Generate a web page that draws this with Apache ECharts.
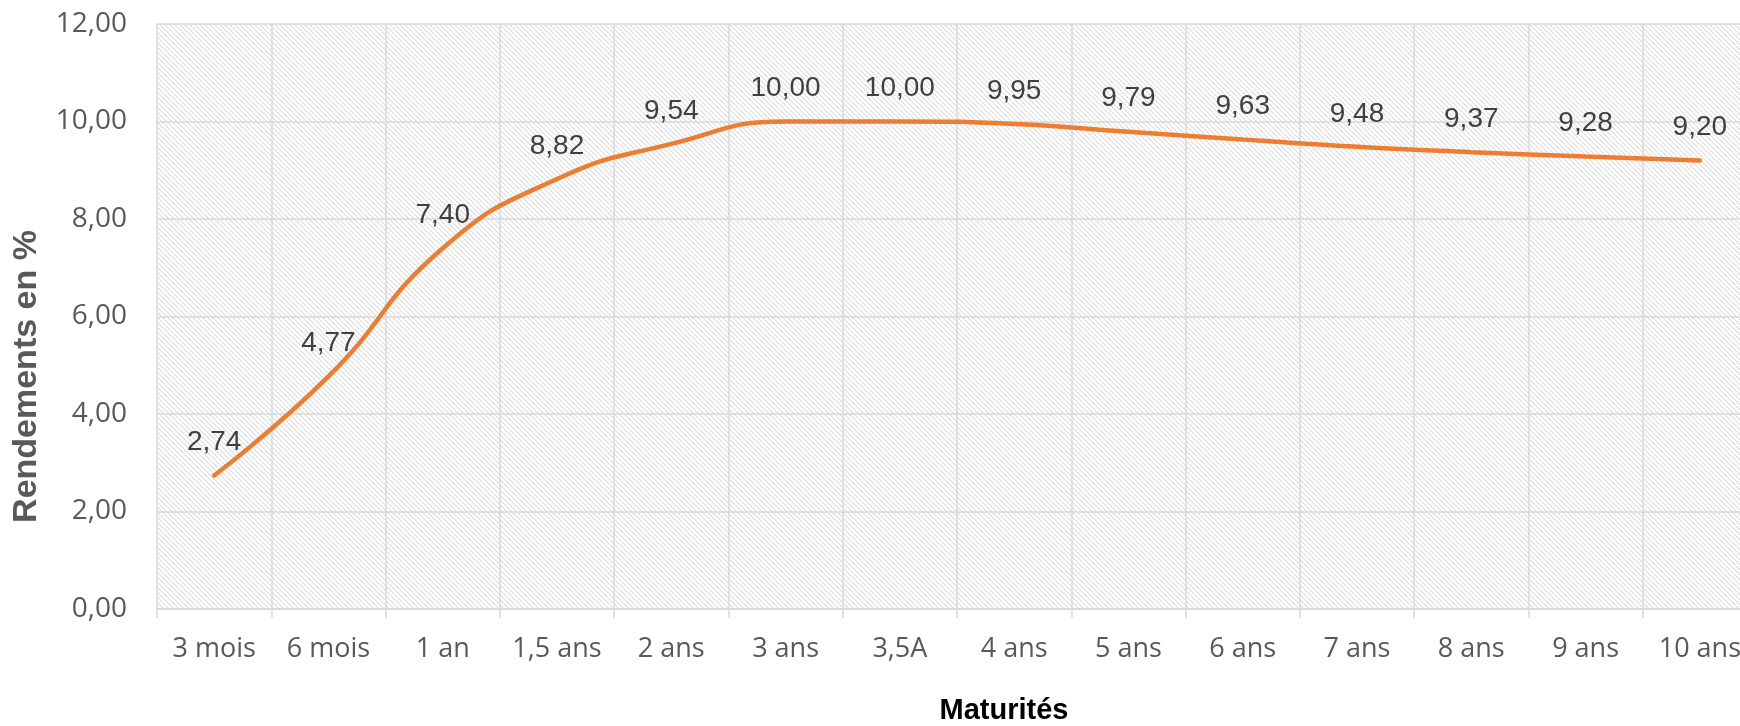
<!DOCTYPE html>
<html>
<head>
<meta charset="utf-8">
<script src="https://cdn.jsdelivr.net/npm/echarts@6/dist/echarts.min.js"></script>
<style>html,body{margin:0;padding:0;background:#fff;overflow:hidden}#c{width:1740px;height:726px}</style>
</head>
<body>
<div id="c"></div>
<script>
const categories = ['3 mois','6 mois','1 an','1,5 ans','2 ans','3 ans','3,5A','4 ans','5 ans','6 ans','7 ans','8 ans','9 ans','10 ans'];
const rendements = [2.74, 4.77, 7.40, 8.82, 9.54, 10.00, 10.00, 9.95, 9.79, 9.63, 9.48, 9.37, 9.28, 9.20];
const yTicks = {min: 0, max: 12, interval: 2};

function hatch() {
  const s = 5;
  const c = document.createElement('canvas');
  c.width = s; c.height = s;
  const g = c.getContext('2d');
  g.fillStyle = '#ffffff';
  g.fillRect(0, 0, s, s);
  for (let i = 0; i < s; i++) {
    g.fillStyle = '#dadada';
    g.fillRect(i, i, 1, 1);
    g.fillStyle = '#f3f3f3';
    g.fillRect((i + 1) % s, i, 1, 1);
  }
  return c;
}

const fmt = v => v.toFixed(2).replace('.', ',');
const chart = echarts.init(document.getElementById('c'));
chart.setOption({
  animation: false,
  backgroundColor: '#ffffff',
  grid: {
    show: true, left: 157, width: 1600, top: 24, bottom: 117,
    containLabel: false, outerBoundsMode: 'none',
    borderWidth: 0,
    backgroundColor: {image: hatch(), repeat: 'repeat'}
  },
  xAxis: {
    type: 'category', data: categories, boundaryGap: true,
    name: 'Maturités', nameLocation: 'middle', nameGap: 87,
    nameTextStyle: {fontFamily: 'Liberation Sans, Arial', fontWeight: 'bold', fontSize: 29, color: '#000000', padding: [0, 0, 0, 94]},
    axisLine: {lineStyle: {color: '#d9d9d9', width: 1.5}},
    axisTick: {show: true, length: 9, lineStyle: {color: '#d9d9d9', width: 1.5}},
    axisLabel: {margin: 27, fontFamily: 'Open Sans', fontSize: 27, color: '#595959', interval: 0},
    splitLine: {show: true, lineStyle: {color: '#d9d9d9', width: 1.5}}
  },
  yAxis: {
    type: 'value', min: yTicks.min, max: yTicks.max, interval: yTicks.interval,
    name: 'Rendements en %', nameLocation: 'middle', nameRotate: 90, nameGap: 113,
    nameTextStyle: {fontFamily: 'Liberation Sans, Arial', fontWeight: 'bold', fontSize: 34, color: '#595959', padding: [0, 120, 0, 0]},
    axisLine: {show: false}, axisTick: {show: false},
    axisLabel: {margin: 30, fontFamily: 'Open Sans', fontSize: 28, color: '#595959', formatter: fmt},
    splitLine: {show: true, lineStyle: {color: '#d9d9d9', width: 1.5}}
  },
  series: [{
    type: 'line', data: rendements, smooth: 0.5, symbol: 'circle', symbolSize: 0.01, showSymbol: true,
    lineStyle: {color: '#ED7D31', width: 4.5, cap: 'round'},
    itemStyle: {color: '#ED7D31'},
    labelLayout: {hideOverlap: false},
    label: {show: true, position: 'top', distance: 19, formatter: p => fmt(p.value),
      fontFamily: 'Liberation Sans, Arial', fontSize: 28, color: '#404040'}
  }]
});
</script>
</body>
</html>
